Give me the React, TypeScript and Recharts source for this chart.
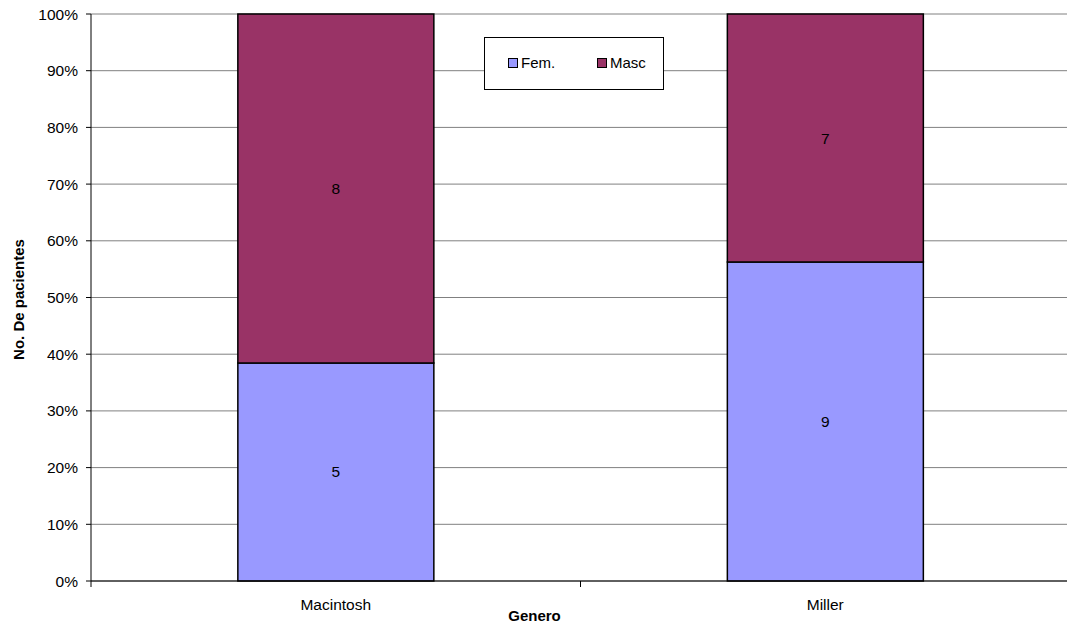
import React from 'react';
import { BarChart, Bar, XAxis, YAxis, CartesianGrid, Legend, LabelList } from 'recharts';

const categories = ['Macintosh', 'Miller'];
const femValues = [5, 9];
const mascValues = [8, 7];
const yTicks = [0, 0.1, 0.2, 0.3, 0.4, 0.5, 0.6, 0.7, 0.8, 0.9, 1];

const data = categories.map((c, i) => ({ name: c, fem: femValues[i], masc: mascValues[i] }));

const FONT = '"Liberation Sans", Arial, sans-serif';

const LegendBox = (props: any) => {
  const payload = props.payload || [];
  return (
    <div style={{ width: 180, height: 53, boxSizing: 'border-box', border: '1px solid #000', background: '#fff', position: 'relative', fontFamily: FONT, fontSize: 15 }}>
      {payload.map((p: any, i: number) => (
        <div key={i} style={{ position: 'absolute', left: i === 0 ? 23 : 112, top: 16, display: 'flex', alignItems: 'center', lineHeight: '18px' }}>
          <span style={{ display: 'inline-block', width: 8, height: 8, background: p.color, border: '1px solid #000', marginRight: 3 }} />
          <span>{p.value}</span>
        </div>
      ))}
    </div>
  );
};

const CatTick = (props: any) => {
  const { x, y, payload, index, visibleTicksCount } = props;
  const half = payload && payload.offset ? payload.offset : 0;
  const axisY = y - 18;
  const isLast = index === (visibleTicksCount || categories.length) - 1;
  return (
    <g>
      <line x1={x - half} x2={x - half} y1={axisY} y2={axisY + 6} stroke="#000" />
      {isLast && <line x1={x + half} x2={x + half} y1={axisY} y2={axisY + 6} stroke="#000" />}
      <text x={x} y={y} dy="0.71em" textAnchor="middle" fill="#000" fontSize={15.5} fontFamily={FONT}>{payload.value}</text>
    </g>
  );
};

export default function App() {
  return (
    <div style={{ position: 'absolute', left: 0, top: 0, fontFamily: FONT }}>
      <BarChart width={1067} height={629} data={data} stackOffset="expand" barCategoryGap="30%" margin={{ top: 14, right: -3, bottom: 0, left: 0 }}>
        <CartesianGrid horizontal={true} vertical={false} stroke="#808080" strokeWidth={1} />
        <XAxis dataKey="name" height={48} tickLine={false} tickSize={6} tickMargin={12} axisLine={{ stroke: '#000' }} tick={<CatTick />}
          label={{ content: (p: any) => { const vb = p.viewBox; return <text x={vb.x + vb.width / 2 - 46} y={vb.y + 40} textAnchor="middle" fontWeight="bold" fontSize={15} fontFamily={FONT} fill="#000">Genero</text>; } }} />
        <YAxis type="number" domain={[0, 1]} ticks={yTicks} width={91} tickSize={5} tickMargin={8} axisLine={{ stroke: '#000' }} tickLine={{ stroke: '#000' }}
          tickFormatter={(v: number) => `${Math.round(v * 100)}%`} tick={{ fill: '#000', fontSize: 15.5, fontFamily: FONT }}
          label={{ content: (p: any) => { const vb = p.viewBox; const cx = vb.x + 18; const cy = vb.y + vb.height / 2 + 2; return <text x={cx} y={cy} transform={`rotate(-90 ${cx} ${cy})`} textAnchor="middle" dominantBaseline="central" fontWeight="bold" fontSize={15} fontFamily={FONT} fill="#000">No. De pacientes</text>; } }} />
        <Legend content={<LegendBox />} wrapperStyle={{ position: 'absolute', left: 484, top: 37, width: 180, height: 0, overflow: 'visible' }} />
        <Bar dataKey="fem" name="Fem." stackId="a" fill="#9999FF" stroke="#000" strokeWidth={1.5} isAnimationActive={false}>
          <LabelList dataKey="fem" position="center" fill="#000" fontSize={15.5} fontFamily={FONT} />
        </Bar>
        <Bar dataKey="masc" name="Masc" stackId="a" fill="#993366" stroke="#000" strokeWidth={1.5} isAnimationActive={false}>
          <LabelList dataKey="masc" position="center" fill="#000" fontSize={15.5} fontFamily={FONT} />
        </Bar>
      </BarChart>
    </div>
  );
}
